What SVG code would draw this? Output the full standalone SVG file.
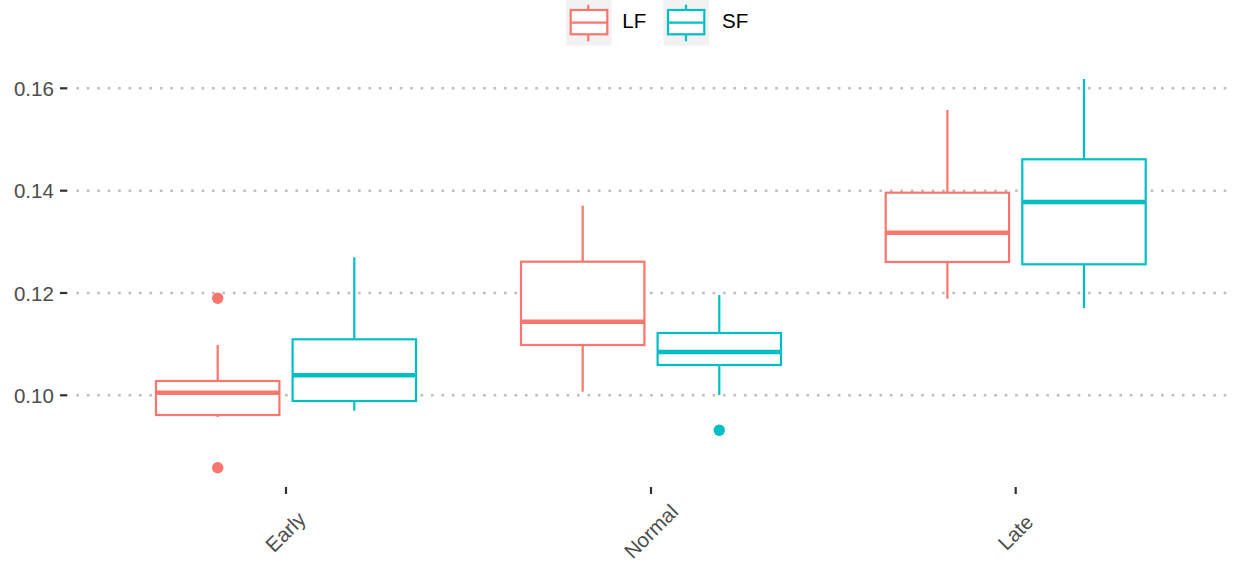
<svg xmlns="http://www.w3.org/2000/svg" width="1248" height="576" viewBox="0 0 1248 576">
<style>
.grid{stroke:#bdbdbd;stroke-width:2.6;stroke-dasharray:2.6 7.83;fill:none}
.tick{stroke:#333333;stroke-width:2.2}
.ylab{font-family:"Liberation Sans",Arial,sans-serif;font-size:20.5px;fill:#4d4d4d;text-anchor:end}
.xlab{font-family:"Liberation Sans",Arial,sans-serif;font-size:20.5px;fill:#4d4d4d;text-anchor:middle}
.leg{font-family:"Liberation Sans",Arial,sans-serif;font-size:20.5px;fill:#000000}
.lf{stroke:#F8766D}
.sf{stroke:#00BFC4}
.box{fill:#ffffff;stroke-width:2.2}
.wh{stroke-width:2.2}
.med{stroke-width:4.5}
.lfp{fill:#F8766D}
.sfp{fill:#00BFC4}
.keybg{fill:#f2f2f2}
</style>
<rect width="1248" height="576" fill="#ffffff"/>
<g id="gridlines">
<line class="grid" x1="76.4" y1="88.3" x2="1231" y2="88.3"/>
<line class="grid" x1="76.4" y1="190.7" x2="1231" y2="190.7"/>
<line class="grid" x1="76.4" y1="293" x2="1231" y2="293"/>
<line class="grid" x1="76.4" y1="395.3" x2="1231" y2="395.3"/>
</g>
<g id="y-axis">
<line class="tick" x1="60" y1="88.3" x2="67.3" y2="88.3"/>
<line class="tick" x1="60" y1="190.7" x2="67.3" y2="190.7"/>
<line class="tick" x1="60" y1="293" x2="67.3" y2="293"/>
<line class="tick" x1="60" y1="395.3" x2="67.3" y2="395.3"/>
<text class="ylab" x="53.8" y="95.8">0.16</text>
<text class="ylab" x="53.8" y="198.2">0.14</text>
<text class="ylab" x="53.8" y="300.5">0.12</text>
<text class="ylab" x="53.8" y="402.8">0.10</text>
</g>
<g id="x-axis">
<line class="tick" x1="286" y1="487" x2="286" y2="494"/>
<line class="tick" x1="651" y1="487" x2="651" y2="494"/>
<line class="tick" x1="1015.7" y1="487" x2="1015.7" y2="494"/>
<text class="xlab" transform="translate(290.5,537) rotate(-45)">Early</text>
<text class="xlab" transform="translate(656,536.5) rotate(-45)">Normal</text>
<text class="xlab" transform="translate(1020.5,537.5) rotate(-45)">Late</text>
</g>
<g id="early-lf">
<line class="lf wh" x1="217.7" y1="345" x2="217.7" y2="381"/>
<line class="lf wh" x1="217.7" y1="415" x2="217.7" y2="417"/>
<rect class="lf box" x="156" y="381" width="123.4" height="34"/>
<line class="lf med" x1="156" y1="392.7" x2="279.4" y2="392.7"/>
<circle class="lfp" cx="217.7" cy="298.3" r="5.7"/>
<circle class="lfp" cx="217.7" cy="467.7" r="5.7"/>
</g>
<g id="early-sf">
<line class="sf wh" x1="354.3" y1="257.3" x2="354.3" y2="339.3"/>
<line class="sf wh" x1="354.3" y1="401" x2="354.3" y2="410.7"/>
<rect class="sf box" x="292.6" y="339.3" width="123.4" height="61.7"/>
<line class="sf med" x1="292.6" y1="375.3" x2="416" y2="375.3"/>
</g>
<g id="normal-lf">
<line class="lf wh" x1="582.7" y1="205.7" x2="582.7" y2="261.7"/>
<line class="lf wh" x1="582.7" y1="345" x2="582.7" y2="391.7"/>
<rect class="lf box" x="521" y="261.7" width="123.4" height="83.3"/>
<line class="lf med" x1="521" y1="321.7" x2="644.4" y2="321.7"/>
</g>
<g id="normal-sf">
<line class="sf wh" x1="719.3" y1="295" x2="719.3" y2="333"/>
<line class="sf wh" x1="719.3" y1="365" x2="719.3" y2="395"/>
<rect class="sf box" x="657.6" y="333" width="123.4" height="32"/>
<line class="sf med" x1="657.6" y1="352" x2="781" y2="352"/>
<circle class="sfp" cx="719.3" cy="430.3" r="5.7"/>
</g>
<g id="late-lf">
<line class="lf wh" x1="947.4" y1="110" x2="947.4" y2="192.7"/>
<line class="lf wh" x1="947.4" y1="262" x2="947.4" y2="298.7"/>
<rect class="lf box" x="885.7" y="192.7" width="123.4" height="69.3"/>
<line class="lf med" x1="885.7" y1="232.7" x2="1009.1" y2="232.7"/>
</g>
<g id="late-sf">
<line class="sf wh" x1="1084" y1="79" x2="1084" y2="159.3"/>
<line class="sf wh" x1="1084" y1="264.3" x2="1084" y2="308"/>
<rect class="sf box" x="1022.3" y="159.3" width="123.4" height="105"/>
<line class="sf med" x1="1022.3" y1="202" x2="1145.7" y2="202"/>
</g>
<g id="legend">
<g id="legend-lf">
<rect class="keybg" x="566" y="0" width="45.7" height="45.7"/>
<line class="lf wh" x1="588.3" y1="4.7" x2="588.3" y2="10"/>
<line class="lf wh" x1="588.3" y1="34.3" x2="588.3" y2="41.3"/>
<rect class="lf box" x="570.7" y="10" width="36.6" height="24.3"/>
<line class="lf wh" x1="570.7" y1="22.7" x2="607.3" y2="22.7"/>
<text class="leg" x="622.3" y="28">LF</text>
</g>
<g id="legend-sf">
<rect class="keybg" x="663.3" y="0" width="45.7" height="45.7"/>
<line class="sf wh" x1="686" y1="4.7" x2="686" y2="10"/>
<line class="sf wh" x1="686" y1="34.3" x2="686" y2="41.3"/>
<rect class="sf box" x="668" y="10" width="36.3" height="24.3"/>
<line class="sf wh" x1="668" y1="22.7" x2="704.3" y2="22.7"/>
<text class="leg" x="722" y="28">SF</text>
</g>
</g>
</svg>
